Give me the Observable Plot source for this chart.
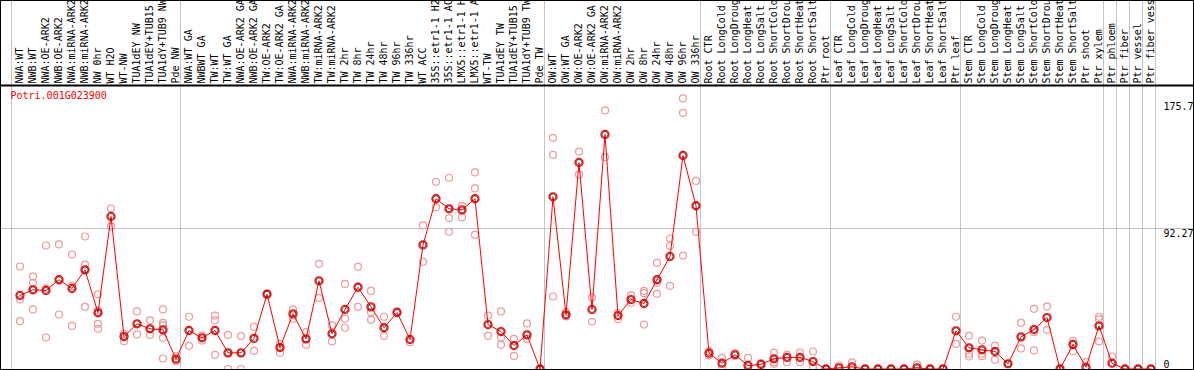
<!DOCTYPE html>
<html><head><meta charset="utf-8">
<script src="https://cdn.jsdelivr.net/npm/d3@7"></script>
<script src="https://cdn.jsdelivr.net/npm/@observablehq/plot@0.6"></script>
<style>
html,body{margin:0;padding:0;background:#fff;}
#wrap{width:1194px;height:370px;box-sizing:border-box;border:1px solid #000;overflow:hidden;}
#wrap svg{display:block;overflow:hidden;}
</style></head><body><div id="wrap"></div>
<script>
const geneId = "Potri.001G023900";
const labels = [
"NWA:WT","NWB:WT","NWA:OE-ARK2","NWB:OE-ARK2","NWA:miRNA-ARK2","NWB:miRNA-ARK2","NW 0hr","WT H2O","WT-NW","TUA1dEY NW","TUA1dEY+TUB15","TUA1dY+TUB9 NW","Pde NW",
"NWA:WT GA","NWBWT GA","TW:WT","TW:WT GA","NWA:OE-ARK2 GA","NWB:OE-ARK2 GA","TW:OE-ARK2","TW:OE-ARK2 GA","NWA:miRNA-ARK2","NWB:miRNA-ARK2","TW:miRNA-ARK2","TW:miRNA-ARK2",
"TW 2hr","TW 8hr","TW 24hr","TW 48hr","TW 96hr","TW 336hr","WT ACC","35S::etr1-1 H2","35S::etr1-1 AC","LMX5::etr1-1 H","LMX5::etr1-1 A","WT-TW","TUA1dEY TW","TUA1dEY+TUB15","TUA1dY+TUB9 TW","Pde TW",
"OW:WT","OW:WT GA","OW:OE-ARK2","OW:OE-ARK2 GA","OW:miRNA-ARK2","OW:miRNA-ARK2","OW 2hr","OW 8hr","OW 24hr","OW 48hr","OW 96hr","OW 336hr",
"Root CTR","Root LongCold","Root LongDroug","Root LongHeat","Root LongSalt","Root ShortCold","Root ShortDrou","Root ShortHeat","Root ShortSalt","Ptr root",
"Leaf CTR","Leaf LongCold","Leaf LongDroug","Leaf LongHeat","Leaf LongSalt","Leaf ShortCold","Leaf ShortDrou","Leaf ShortHeat","Leaf ShortSalt","Ptr leaf",
"Stem CTR","Stem LongCold","Stem LongDroug","Stem LongHeat","Stem LongSalt","Stem ShortCold","Stem ShortDrou","Stem ShortHeat","Stem ShortSalt","Ptr shoot",
"Ptr xylem","Ptr phloem","Ptr fiber","Ptr vessel","Ptr fiber vess"];
const means = [
48.3,52.0,51.6,58.6,52.9,65.1,36.9,100.2,21.3,29.7,26.4,25.7,6.5,
25.3,20.5,25.3,10.6,10.6,20.1,49.1,14.1,36.2,19.8,57.9,23.1,
39.1,53.7,40.8,27.1,37.1,19.4,81.5,111.8,105.2,104.5,111.8,29.2,24.6,15.4,22.4,0,
113.1,35.6,135.6,39.1,154.0,35.1,45.6,43.0,58.6,73.9,140.2,107.2,
10.4,3.8,9.3,2.3,3.0,6.7,7.6,7.6,4.9,0,
0.8,1.4,0,0,0,0,0.8,0,0,25.1,
13.9,12.6,11.5,3.4,21.1,25.9,33.8,0,16.1,1.2,
28.3,3.8,0,0,0];
const replicates = [
[67.3,45.6,31.4],[60.7,56.6,39.1],[81.1,52.9,20.7],[81.8,35.8],[75.2,54.4,28.3],[87.0,68.6,40.8],[49.1,38.4,29.7,26.4],[105.4,93.6],[23.1,18.3],[37.8,22.7],[31.9,22.4],[39.1,30.3,28.6,20.5,6.9],[8.4,5.1],
[34.3,15.2],[22.0,18.7],[35.1,31.9,9.3],[22.4,0],[21.6,0],[27.7,11.9],[49.4],[16.5,10.6],[39.1,33.0],[24.2,15.9],[69.1,46.7],[28.6,18.1],
[55.9,33.0,27.1],[67.1,40.8],[51.3,37.3,32.3],[34.3,21.8],[37.8],[17.6],[94.3,70.4],[122.9,106.3],[125.6,99.1,90.1],[106.9,99.7],[129.1,118.6,88.1],[35.1,21.8],[37.8,20.7,15.9],[19.8,8.6],[29.9,19.8],[0],
[151.8,140.6,47.6],[37.3,34.5],[142.8,127.7],[46.9,31.2],[169.8,139.1],[36.7,32.7],[48.5,43.5],[51.3,49.8,29.2],[69.7,56.6,49.4],[85.7,80.9,54.6],[177.7,168.2,74.5],[123.5,90.1],
[11.7,8.9],[7.3,0],[10.2],[7.3,0],[3.8],[10.8,4.5,3.4],[9.3,4.5],[10.8,4.5],[11.5,1.4],[0],
[2.3],[4.3],[0],[0],[0],[0],[3.0],[0],[0],[34.3,16.5],
[21.8,10.0,8.2],[18.7,10.0,8.4],[15.4,6.0],[3.4],[30.3,13.5],[39.5,24.2,12.2],[41.0,25.7],[0],[18.3,11.7],[4.5],
[34.3,32.7,18.1],[8.2],[0],[0],[0]];
const upperTicks = [175.7, 92.27];
const zeroTick = [0];
const gridValue = [92.27];
const groupStarts = [0, 13, 41, 53, 63, 73, 84, 85, 86, 87, 88];

const meanData = labels.map((label, i) => ({i, label, v: means[i]}));
const repData = replicates.flatMap((r, i) => r.map(v => ({i, v})));

const chart = Plot.plot({
  width: 1192, height: 368,
  marginTop: 84, marginBottom: 0, marginLeft: 0, marginRight: 0,
  x: {type: "linear", domain: [0, 87], range: [18.5, 1149.5], axis: null},
  y: {type: "linear", domain: [0, 92.27], range: [367.5, 227], axis: null},
  style: {fontFamily: "'DejaVu Sans Mono', monospace", fontSize: "10px", background: "white", overflow: "hidden"},
  marks: [
    Plot.ruleX(groupStarts, {x: d => d - 0.654, stroke: "#c4c4c4", strokeWidth: 1, insetTop: -84}),
    Plot.ruleY(gridValue, {stroke: "#c4c4c4", strokeWidth: 1}),
    Plot.dot(repData, {x: "i", y: "v", r: 3.5, stroke: "#ef9a9a", strokeWidth: 1.2}),
    Plot.line(meanData, {x: "i", y: "v", stroke: "red", strokeWidth: 1}),
    Plot.dot(meanData, {x: "i", y: "v", r: 4, stroke: "red", strokeWidth: 1.3}),
    Plot.dot(meanData, {x: "i", y: "v", r: 3, stroke: "#600000", strokeWidth: 0.8}),
    Plot.frame({anchor: "top", stroke: "black", strokeWidth: 2}),
    Plot.text(meanData, {x: "i", text: "label", frameAnchor: "top", rotate: -90, textAnchor: "start", lineAnchor: "middle", dy: -2, fill: "black"}),
    Plot.text([geneId], {text: d => d, frameAnchor: "top-left", textAnchor: "start", lineAnchor: "top", dx: 9, dy: 6, fill: "red"}),
    Plot.text(upperTicks, {y: d => d, text: d => String(d), frameAnchor: "right", textAnchor: "start", lineAnchor: "top", dx: -30, dy: 1, fill: "black"}),
    Plot.text(zeroTick, {y: d => d, text: d => String(d), frameAnchor: "right", textAnchor: "start", lineAnchor: "bottom", dx: -30, dy: -1, fill: "black"})
  ]
});
document.getElementById("wrap").appendChild(chart);
</script>
</body></html>
